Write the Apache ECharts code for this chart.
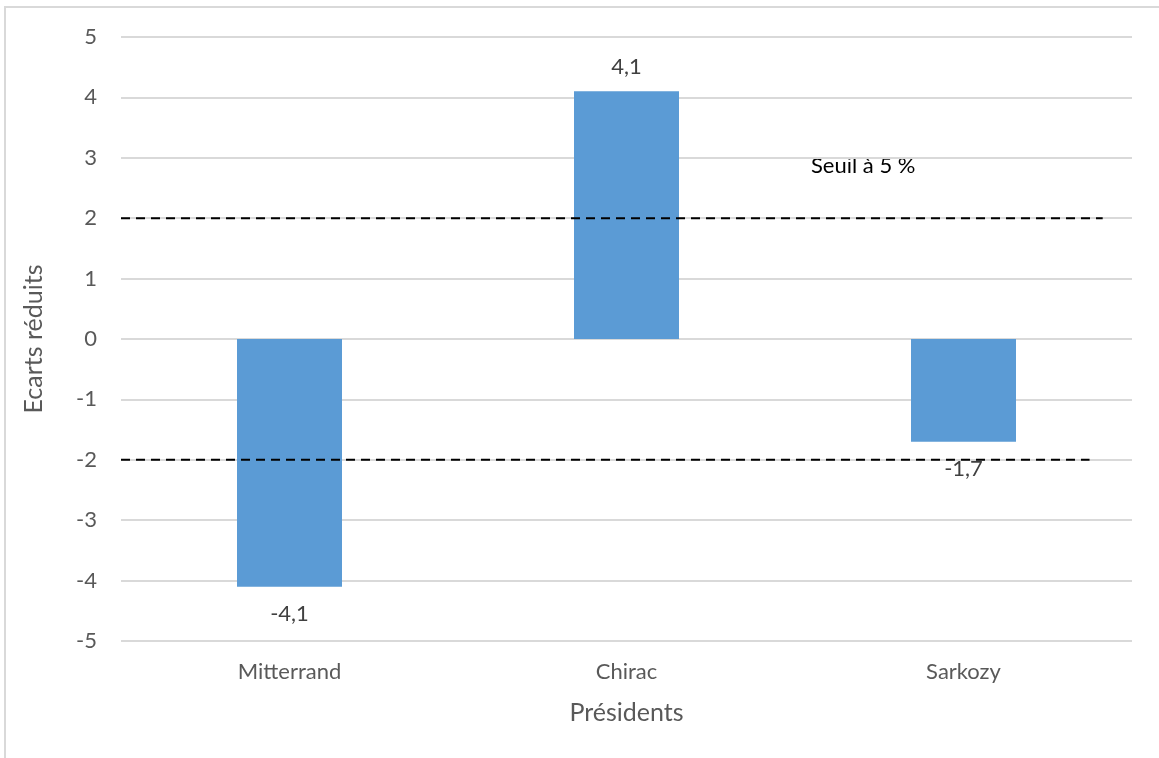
<!DOCTYPE html>
<html><head><meta charset="utf-8">
<script src="https://cdn.jsdelivr.net/npm/echarts@6/dist/echarts.min.js"></script>
<style>html,body{margin:0;padding:0;background:#fff}#c{width:1159px;height:758px}</style>
</head><body><div id="c"></div>
<script>
const categories = ['Mitterrand', 'Chirac', 'Sarkozy'];
const values = [-4.1, 4.1, -1.7];
const thresholds = [2, -2];
const thresholdLabel = 'Seuil à 5 %';
const yTicks = [-5, -4, -3, -2, -1, 0, 1, 2, 3, 4, 5];

const FONT = 'Lato, "Open Sans", sans-serif';
const chart = echarts.init(document.getElementById('c'));
const fmt = v => String(v).replace('.', ',');

chart.setOption({
  animation: false,
  backgroundColor: '#fff',
  grid: { left: 121, right: 27, top: 37, bottom: 117 },
  xAxis: [{
    type: 'category', data: categories,
    axisLine: { show: false, onZero: false }, axisTick: { show: false },
    axisLabel: { color: '#595959', fontSize: 22, fontFamily: FONT, margin: 20 },
    name: 'Présidents', nameLocation: 'middle', nameGap: 59,
    nameTextStyle: { color: '#595959', fontSize: 25, fontFamily: FONT }
  }, {
    type: 'value', min: 0, max: 1, show: false
  }],
  yAxis: {
    type: 'value', min: yTicks[0], max: yTicks[yTicks.length - 1], interval: 1,
    axisLine: { show: false }, axisTick: { show: false },
    axisLabel: { color: '#595959', fontSize: 22, fontFamily: FONT, margin: 24 },
    splitLine: { lineStyle: { color: '#D9D9D9', width: 2 } },
    name: 'Ecarts réduits', nameLocation: 'middle', nameGap: 75,
    nameTextStyle: { color: '#595959', fontSize: 25, fontFamily: FONT }
  },
  series: [{
    type: 'bar', data: values.map(v => ({
      value: v,
      label: v < 0 ? { position: 'bottom', distance: 16 } : { position: 'top', distance: 13 }
    })),
    barWidth: 105,
    itemStyle: { color: '#5B9BD5' },
    label: { show: true, color: '#404040', fontSize: 22, fontFamily: FONT,
      formatter: p => fmt(p.value) }
  }, {
    type: 'line', xAxisIndex: 1, symbol: 'none', silent: true,
    data: [[0, thresholds[0]], [0.971, thresholds[0]]],
    lineStyle: { color: '#000', width: 2, type: [9, 6] }, z: 5
  }, {
    type: 'line', xAxisIndex: 1, symbol: 'none', silent: true,
    data: [[0, thresholds[1]], [0.958, thresholds[1]]],
    lineStyle: { color: '#000', width: 2, type: [9, 6] }, z: 5
  }],
  graphic: [
    { type: 'line', shape: { x1: 4, y1: 7, x2: 1159, y2: 7 }, style: { stroke: '#D9D9D9', lineWidth: 2 } },
    { type: 'line', shape: { x1: 5, y1: 7, x2: 5, y2: 758 }, style: { stroke: '#D9D9D9', lineWidth: 2 } },
    { type: 'text', left: 811, top: 155, style: { text: thresholdLabel, fill: '#000', font: '22px ' + FONT } }
  ]
});
</script></body></html>
